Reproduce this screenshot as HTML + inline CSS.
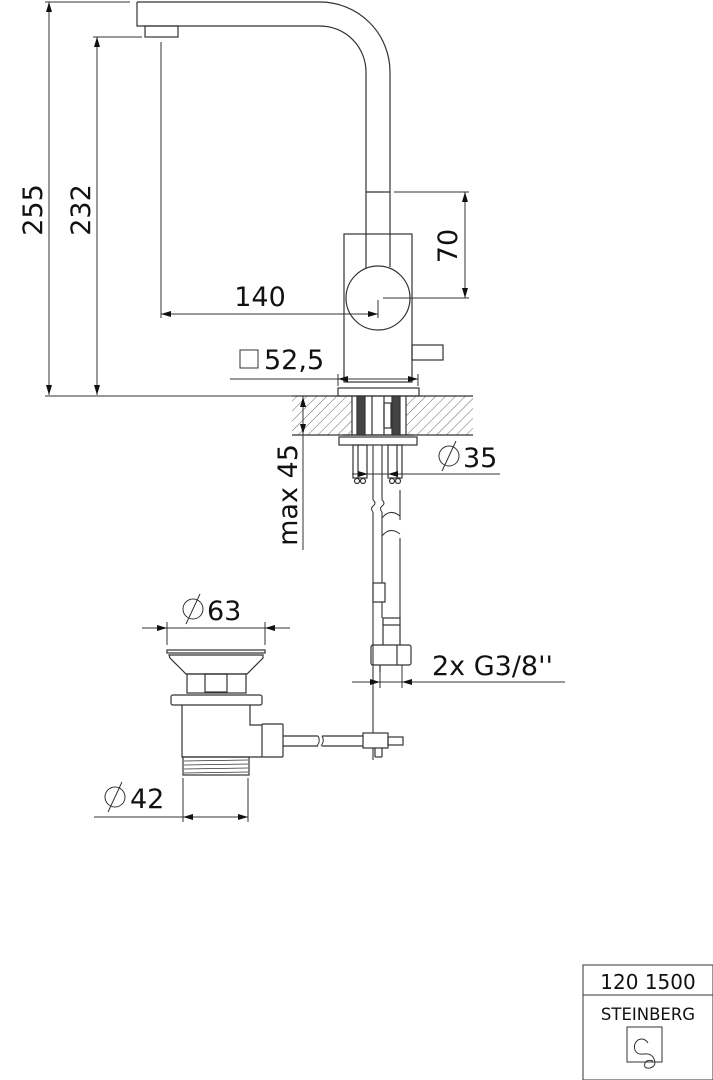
<!DOCTYPE html>
<html><head><meta charset="utf-8"><style>
html,body{margin:0;padding:0;background:#fff;}
svg{display:block;}
text{font-family:"DejaVu Sans","Liberation Sans",sans-serif;fill:#111;}
</style></head><body>
<svg width="713" height="1080" viewBox="0 0 713 1080" xmlns="http://www.w3.org/2000/svg">
<defs>
<pattern id="h" width="7" height="7" patternUnits="userSpaceOnUse" patternTransform="rotate(45)">
<line x1="0" y1="0" x2="0" y2="7" stroke="#444" stroke-width="0.8"/>
</pattern>
<marker id="a" viewBox="0 0 10 6" refX="10" refY="3" markerWidth="10" markerHeight="6" orient="auto-start-reverse" markerUnits="userSpaceOnUse">
<path d="M0,0 L10,3 L0,6 z" fill="#111"/>
</marker>
</defs>
<g fill="none" stroke="#333" stroke-width="1.2">
<path d="M137,2 L320,2 A70,70 0 0 1 390,72 L390,267"/>
<path d="M137,2 L137,26 L320,26 A46,46 0 0 1 366,72 L366,270"/>
<rect x="145" y="26" width="33" height="11"/>
<line x1="366" y1="192" x2="390" y2="192"/>
<rect x="344" y="234" width="68" height="148"/>
<rect x="412" y="345" width="31" height="15"/>
<circle cx="378" cy="298" r="32" fill="#fff"/>
<rect x="338" y="388" width="81" height="8"/>
<line x1="45" y1="2" x2="130" y2="2" stroke-width="1"/>
<line x1="49" y1="2" x2="49" y2="395" stroke-width="1" marker-start="url(#a)" marker-end="url(#a)"/>
<line x1="93" y1="37" x2="142" y2="37" stroke-width="1"/>
<line x1="97" y1="37" x2="97" y2="395" stroke-width="1" marker-start="url(#a)" marker-end="url(#a)"/>
<line x1="45" y1="396" x2="297" y2="396" stroke-width="1"/>
<line x1="161" y1="42" x2="161" y2="318" stroke-width="1"/>
<line x1="161" y1="314" x2="378" y2="314" stroke-width="1" marker-start="url(#a)" marker-end="url(#a)"/>
<line x1="378" y1="300" x2="378" y2="318" stroke-width="1"/>
<line x1="394" y1="192" x2="469" y2="192" stroke-width="1"/>
<line x1="383" y1="298" x2="469" y2="298" stroke-width="1"/>
<line x1="465" y1="192" x2="465" y2="298" stroke-width="1" marker-start="url(#a)" marker-end="url(#a)"/>
<rect x="240" y="350" width="18" height="18" stroke-width="1"/>
<line x1="230" y1="379" x2="338" y2="379" stroke-width="1"/>
<line x1="338" y1="379" x2="418" y2="379" stroke-width="1" marker-start="url(#a)" marker-end="url(#a)"/>
<line x1="338" y1="374" x2="338" y2="386" stroke-width="1"/>
<line x1="418" y1="374" x2="418" y2="386" stroke-width="1"/>
<rect x="292" y="396" width="60" height="39" fill="url(#h)" stroke="none"/>
<rect x="406" y="396" width="67" height="39" fill="url(#h)" stroke="none"/>
<line x1="292" y1="396" x2="473" y2="396"/>
<line x1="292" y1="435" x2="473" y2="435"/>
<line x1="352" y1="396" x2="352" y2="435"/>
<line x1="406" y1="396" x2="406" y2="435"/>
<rect x="357" y="396" width="8" height="39" fill="#444"/>
<rect x="392" y="396" width="8" height="39" fill="#444"/>
<line x1="372" y1="396" x2="372" y2="435"/><line x1="384" y1="396" x2="384" y2="435"/>
<rect x="384" y="403" width="7" height="25"/>
<line x1="303" y1="396" x2="303" y2="550" stroke-width="1"/>
<line x1="303" y1="397" x2="303" y2="434" stroke-width="1" marker-start="url(#a)" marker-end="url(#a)"/>
<rect x="339" y="437" width="78" height="8"/>
<line x1="343" y1="435" x2="413" y2="435"/>
<rect x="353" y="445" width="14" height="33"/><rect x="388" y="445" width="14" height="33"/>
<line x1="358" y1="445" x2="358" y2="478"/><line x1="397" y1="445" x2="397" y2="478"/>
<circle cx="357" cy="481" r="2.5"/><circle cx="363" cy="481" r="2.5"/>
<circle cx="392" cy="481" r="2.5"/><circle cx="398" cy="481" r="2.5"/>
<line x1="352" y1="474" x2="500" y2="474" stroke-width="1"/>
<line x1="352" y1="474" x2="368" y2="474" stroke-width="1" marker-end="url(#a)"/>
<line x1="388" y1="474" x2="402" y2="474" stroke-width="1" marker-end="url(#a)" transform="rotate(180 395 474)"/>
<path d="M373,445 L373,500 M373,512 L373,760 M382,445 L382,500 M382,512 L382,618 M400,490 L400,520 M400,538 L400,618" stroke-width="1.1"/>
<path d="M373,500 q4,3 0,6 q-3,3 0,6 M382,500 q4,3 0,6 q-3,3 0,6 M382,518 q8,-10 18,-2 M382,536 q8,-10 18,-2" stroke-width="1"/>
<rect x="373" y="583" width="12" height="19" fill="#fff"/>
<rect x="383" y="618" width="17" height="7"/>
<line x1="383" y1="625" x2="383" y2="645"/><line x1="400" y1="625" x2="400" y2="645"/>
<rect x="371" y="645" width="40" height="20" rx="2"/>
<line x1="397" y1="645" x2="397" y2="665"/>
<line x1="380" y1="665" x2="380" y2="672"/>
<line x1="352" y1="682" x2="565" y2="682" stroke-width="1"/>
<line x1="352" y1="682" x2="380" y2="682" stroke-width="1" marker-end="url(#a)"/>
<line x1="430" y1="682" x2="402" y2="682" stroke-width="1" marker-end="url(#a)"/>
<line x1="380" y1="665" x2="380" y2="688" stroke-width="1"/>
<line x1="402" y1="665" x2="402" y2="688" stroke-width="1"/>
<line x1="142" y1="628" x2="290" y2="628" stroke-width="1"/>
<line x1="142" y1="628" x2="167" y2="628" stroke-width="1" marker-end="url(#a)"/>
<line x1="290" y1="628" x2="265" y2="628" stroke-width="1" marker-end="url(#a)"/>
<line x1="167" y1="622" x2="167" y2="645" stroke-width="1"/>
<line x1="265" y1="622" x2="265" y2="645" stroke-width="1"/>
<rect x="167" y="650" width="98" height="3"/>
<path d="M169,655 L263,655 L263,658 L247,674 L186,674 L170,658 Z"/>
<rect x="187" y="674" width="59" height="19"/>
<rect x="205" y="674" width="22" height="18"/>
<rect x="171" y="695" width="91" height="10" rx="2"/>
<path d="M182,705 L182,757 L262,757 M250,705 L250,725 L262,725"/>
<rect x="262" y="724" width="21" height="33" rx="1"/>
<rect x="183" y="757" width="66" height="18"/>
<path d="M184,761 L248,760 M184,765 L248,764 M184,769 L248,768 M184,773 L248,772" stroke-width="0.8"/>
<path d="M283,736 L318,736 M283,746 L318,746 M322,736 L363,736 M322,746 L363,746" />
<path d="M318,736 q3,5 -1,10 M322,736 q3,5 -1,10" stroke-width="1"/>
<rect x="363" y="733" width="25" height="15" fill="#fff"/>
<rect x="388" y="737" width="15" height="8"/>
<line x1="375" y1="748" x2="375" y2="757"/><line x1="382" y1="748" x2="382" y2="757"/><line x1="375" y1="757" x2="382" y2="757"/>
<line x1="183" y1="778" x2="183" y2="822" stroke-width="1"/>
<line x1="248" y1="778" x2="248" y2="822" stroke-width="1"/>
<line x1="94" y1="817" x2="183" y2="817" stroke-width="1"/>
<line x1="183" y1="817" x2="248" y2="817" stroke-width="1" marker-start="url(#a)" marker-end="url(#a)"/>
<circle cx="193" cy="609" r="10" stroke-width="1"/><line x1="186" y1="624" x2="200" y2="594" stroke-width="1"/>
<circle cx="115" cy="797" r="10" stroke-width="1"/><line x1="108" y1="812" x2="122" y2="782" stroke-width="1"/>
<circle cx="449" cy="456" r="10" stroke-width="1"/><line x1="442" y1="471" x2="456" y2="441" stroke-width="1"/>
<rect x="583" y="965" width="130" height="115" stroke-width="1"/>
<line x1="583" y1="995" x2="713" y2="995" stroke-width="1"/>
<rect x="627" y="1027" width="35" height="35" stroke-width="1"/>
<path d="M648,1043 q-4,-6 -10,-3 q-5,4 -3,10 q2,5 9,4 q8,-1 10,5 q3,7 -4,9 q-7,1 -5,-5 q2,-4 8,-2" stroke-width="1"/>
</g>
<g font-size="27">
<text x="42" y="210" transform="rotate(-90 42 210)" text-anchor="middle">255</text>
<text x="90" y="210" transform="rotate(-90 90 210)" text-anchor="middle">232</text>
<text x="260" y="306" text-anchor="middle">140</text>
<text x="457" y="246" transform="rotate(-90 457 246)" text-anchor="middle">70</text>
<text x="264" y="369">52,5</text>
<text x="297" y="495" transform="rotate(-90 297 495)" text-anchor="middle">max 45</text>
<text x="463" y="467">35</text>
<text x="207" y="620">63</text>
<text x="130" y="808">42</text>
<text x="432" y="675">2x G3/8''</text>
</g>
<text x="648" y="989" font-size="20" text-anchor="middle">120 1500</text>
<text x="648" y="1020" font-size="16.5" text-anchor="middle" fill="#444">STEINBERG</text>
</svg>
</body></html>
